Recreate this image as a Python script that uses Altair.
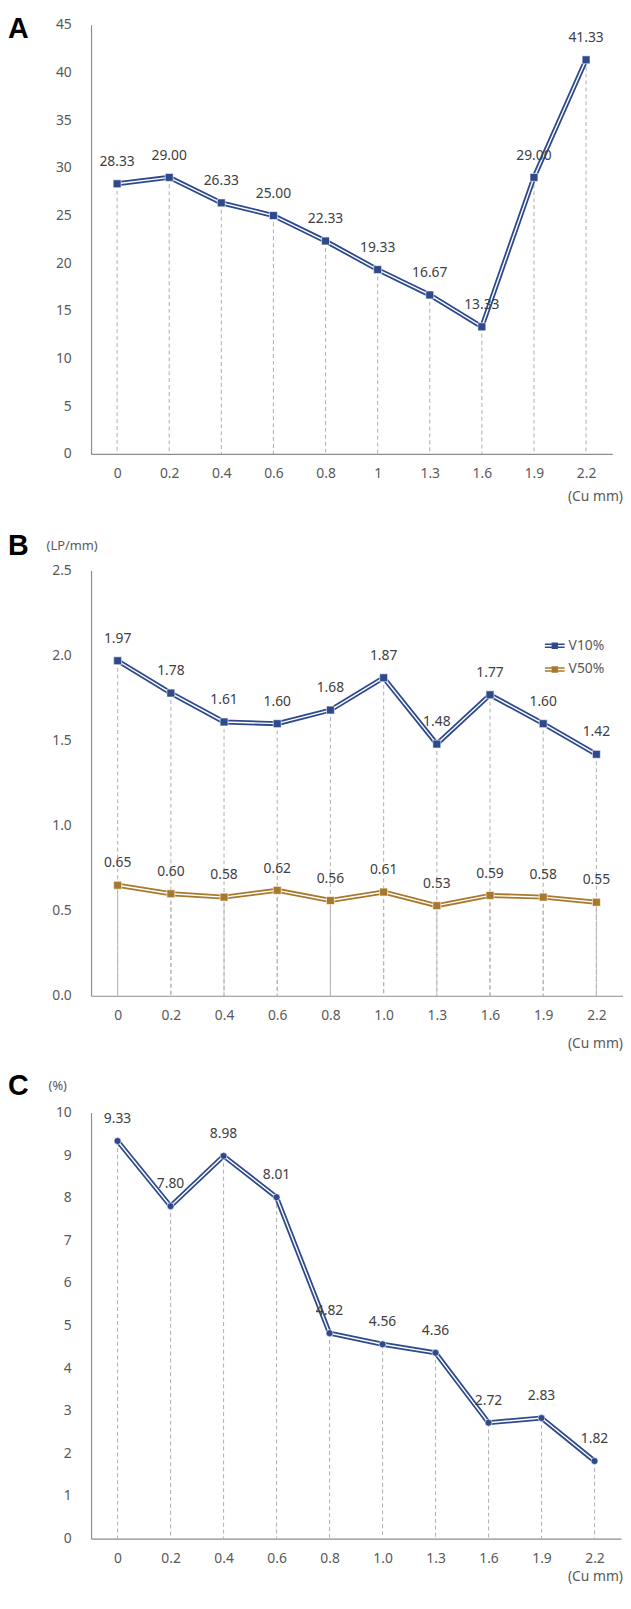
import altair as alt
import pandas as pd

# ---------------- data ----------------
cu_a = ["0", "0.2", "0.4", "0.6", "0.8", "1", "1.3", "1.6", "1.9", "2.2"]
cu_bc = ["0", "0.2", "0.4", "0.6", "0.8", "1.0", "1.3", "1.6", "1.9", "2.2"]
a_vals = [28.33, 29.00, 26.33, 25.00, 22.33, 19.33, 16.67, 13.33, 29.00, 41.33]
v10_vals = [1.97, 1.78, 1.61, 1.60, 1.68, 1.87, 1.48, 1.77, 1.60, 1.42]
v50_vals = [0.65, 0.60, 0.58, 0.62, 0.56, 0.61, 0.53, 0.59, 0.58, 0.55]
c_vals = [9.33, 7.80, 8.98, 8.01, 4.82, 4.56, 4.36, 2.72, 2.83, 1.82]

NAVY = "#2E4A8B"
BROWN = "#A8792C"
DROP = "#B5B5B5"
AXC = "#8C8C8C"
LBC = "#595959"
TXT = "#404040"
FONT = "Noto Sans"

LEG_SYMBOL = ("M-1,-0.22H-0.32V-0.08H-1Z M-1,0.08H-0.32V0.22H-1Z "
              "M0.32,-0.22H1V-0.08H0.32Z M0.32,0.08H1V0.22H0.32Z "
              "M-0.32,-0.32H0.32V0.32H-0.32Z")


def make_df(cats, series):
    rows = []
    for name, vals in series:
        for c, v in zip(cats, vals):
            rows.append({"cat": c, "val": v, "series": name})
    return pd.DataFrame(rows)


def panel(df, cats, ymax, ystep, yfmt, w, h, letter, letter_y, colors,
          unit=None, unit_x=0, unit_y=0, cu_y=45, shape="square",
          msize=64, legend=False):
    names = list(colors.keys())
    cscale = alt.Scale(domain=names, range=[colors[n] for n in names])
    yvals = [round(i * ystep, 2) for i in range(int(round(ymax / ystep)) + 1)]
    x = alt.X("cat:N", sort=cats,
              scale=alt.Scale(type="point", padding=0.5),
              axis=alt.Axis(title=None, labelAngle=0, ticks=False,
                            domainColor=AXC, domainWidth=1.2,
                            labelColor=LBC, labelFontSize=14, labelFont=FONT,
                            labelPadding=13))
    y = alt.Y("val:Q", scale=alt.Scale(domain=[0, ymax], nice=False, zero=True),
              axis=alt.Axis(title=None, values=yvals, format=yfmt, grid=False,
                            ticks=False, domainColor=AXC, domainWidth=1.2,
                            labelColor=LBC, labelFontSize=14, labelFont=FONT,
                            labelPadding=20))
    base = alt.Chart(df)
    drop = base.mark_rule(color=DROP, strokeDash=[4, 3], strokeWidth=1.1).encode(
        x=x, y=y, y2=alt.datum(0))
    layers = [drop]
    for n in names:
        sub = base.transform_filter(alt.datum.series == n)
        layers.append(sub.mark_line(strokeWidth=5, color=colors[n]).encode(x=x, y=y))
        layers.append(sub.mark_line(strokeWidth=1.4, color="white").encode(x=x, y=y))
    if legend:
        leg = alt.Legend(orient="none", legendX=459, legendY=66, title=None,
                         symbolType=LEG_SYMBOL, symbolSize=400,
                         symbolStrokeWidth=0, labelFontSize=14,
                         labelColor=LBC, labelFont=FONT, rowPadding=7,
                         labelOffset=4, padding=0)
    else:
        leg = None
    pts = base.mark_point(filled=True, shape=shape, size=msize, opacity=1,
                          stroke="white", strokeWidth=0.6).encode(
        x=x, y=y, color=alt.Color("series:N", scale=cscale, legend=leg))
    labels = base.mark_text(dy=-22, fontSize=14, font=FONT, color=TXT).encode(
        x=x, y=y, text=alt.Text("val:Q", format=".2f"))
    let = alt.Chart(pd.DataFrame({"t": [letter]})).mark_text(
        font="Liberation Sans", fontWeight="bold", fontSize=29, align="left",
        baseline="middle", color="black").encode(
        x=alt.value(-84), y=alt.value(letter_y), text="t:N")
    cu = alt.Chart(pd.DataFrame({"t": ["(Cu mm)"]})).mark_text(
        font=FONT, fontSize=14, align="right", baseline="middle",
        color=LBC).encode(x=alt.value(630 - 92), y=alt.value(h + cu_y),
                          text="t:N")
    layers += [pts, labels, let, cu]
    if unit:
        u = alt.Chart(pd.DataFrame({"t": [unit]})).mark_text(
            font=FONT, fontSize=13, align="left", baseline="middle",
            color=LBC).encode(x=alt.value(unit_x), y=alt.value(unit_y),
                              text="t:N")
        layers.append(u)
    return alt.layer(*layers).properties(width=w, height=h)


df_a = make_df(cu_a, [("A", a_vals)])
df_b = make_df(cu_bc, [("V10%", v10_vals), ("V50%", v50_vals)])
df_c = make_df(cu_bc, [("C", c_vals)])

pa = panel(df_a, cu_a, 45, 5, "d", 527, 434, "A", 4, {"A": NAVY}, cu_y=44)
pb = panel(df_b, cu_bc, 2.5, 0.5, ".1f", 538, 430, "B", -25,
           {"V10%": NAVY, "V50%": BROWN}, unit="(LP/mm)", unit_x=-45,
           unit_y=-25, cu_y=49, legend=True)
pc = panel(df_c, cu_bc, 10, 1, "d", 536, 431, "C", -27, {"C": NAVY},
           unit="(%)", unit_x=-43, unit_y=-27, cu_y=39, shape="circle",
           msize=50)

chart = alt.vconcat(pa, pb, pc, spacing=118, bounds="flush").resolve_scale(
    color="independent"
).properties(
    padding={"left": 0, "top": -2, "right": 0, "bottom": 0},
    background="white"
).configure_view(stroke=None)

chart.save("out.html", embed_options={"renderer": "svg", "actions": False})
